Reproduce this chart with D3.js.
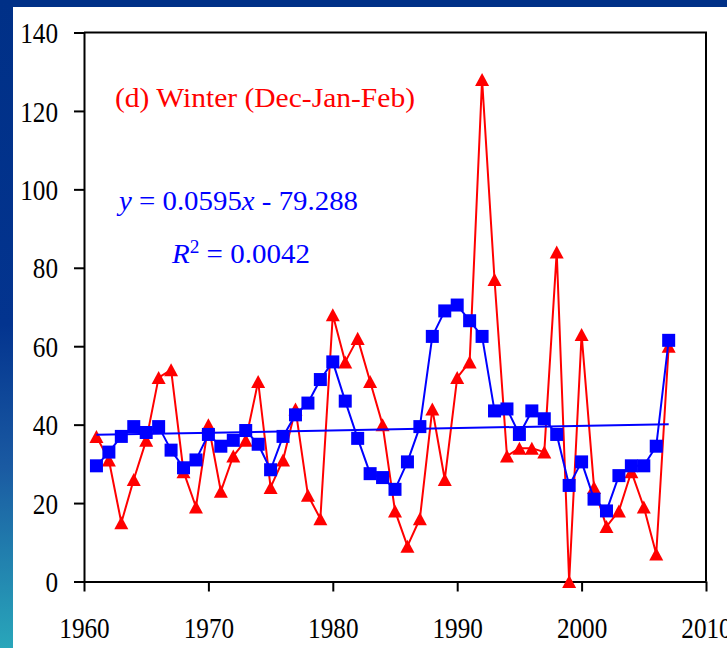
<!DOCTYPE html>
<html>
<head>
<meta charset="utf-8">
<script src="https://cdn.jsdelivr.net/npm/d3@7"></script>
<style>
  html, body { margin: 0; padding: 0; background: #fff; }
  svg { display: block; }
</style>
</head>
<body>
<svg id="chart" width="727" height="648"></svg>
<script>
// Winter (Dec-Jan-Feb) series, 1961-2007
const years = [1961,1962,1963,1964,1965,1966,1967,1968,1969,1970,
               1971,1972,1973,1974,1975,1976,1977,1978,1979,1980,
               1981,1982,1983,1984,1985,1986,1987,1988,1989,1990,
               1991,1992,1993,1994,1995,1996,1997,1998,1999,2000,
               2001,2002,2003,2004,2005,2006,2007];

// red triangles
const winterValues = [37,31,15,26,36,52,54,28,19,40,
                      23,32,36,51,24,31,44,22,16,68,
                      56,62,51,40,18,9,16,44,26,52,
                      56,128,77,32,34,34,33,84,0,63,
                      24,14,18,28,19,7,60];

// blue squares
const blueValues = [29.5,33,37,39.5,38,39.5,33.5,29,31,37.5,
                    34.5,36,38.5,35,28.5,37,42.5,45.5,51.5,56,
                    46,36.5,27.5,26.5,23.5,30.5,39.5,62.5,69,70.5,
                    66.5,62.5,43.5,44,37.5,43.5,41.5,37.5,24.5,30.5,
                    21,18,27,29.5,29.5,34.5,61.5];

// linear trend y = 0.0595x - 79.288
const trendSlope = 0.0595;
const trendIntercept = -79.288;
const trendYears = [1961, 2007];

const xTicks = [1960, 1970, 1980, 1990, 2000, 2010];
const yTicks = [0, 20, 40, 60, 80, 100, 120, 140];
const titleText = "(d) Winter (Dec-Jan-Feb)";

const RED = "#ff0000";
const BLUE = "#0000ff";
const FONT = "'Liberation Serif', 'Times New Roman', serif";

const svg = d3.select("#chart");

// slide frame: dark band on top, gradient strip on the left
const defs = svg.append("defs");
const grad = defs.append("linearGradient")
  .attr("id", "sideGrad").attr("x1", 0).attr("y1", 0).attr("x2", 0).attr("y2", 1);
grad.append("stop").attr("offset", "0%").attr("stop-color", "#003087");
grad.append("stop").attr("offset", "50%").attr("stop-color", "#03348f");
grad.append("stop").attr("offset", "72%").attr("stop-color", "#1a5aa2");
grad.append("stop").attr("offset", "100%").attr("stop-color", "#29a6ba");

svg.append("rect").attr("x", 0).attr("y", 0).attr("width", 727).attr("height", 7).attr("fill", "#003087");
svg.append("rect").attr("x", 0).attr("y", 0).attr("width", 13).attr("height", 648).attr("fill", "url(#sideGrad)");

// plot box
const plotLeft = 84, plotRight = 706, plotTop = 32.5, plotBottom = 581.5;

const x = d3.scaleLinear().domain([1960, 2010]).range([plotLeft, plotRight]);
const y = d3.scaleLinear().domain([0, 140]).range([plotBottom, plotTop]);

const digitW = 12.6;

// y axis
const yAxis = svg.append("g")
  .attr("transform", `translate(${plotLeft},0)`)
  .call(d3.axisLeft(y).tickValues(yTicks).tickSize(10).tickSizeOuter(0).tickPadding(16));
yAxis.selectAll("text")
  .attr("font-family", FONT).attr("font-size", 29).attr("fill", "#000")
  .attr("dy", "0.35em")
  .attr("textLength", d => String(d).length * digitW)
  .attr("lengthAdjust", "spacingAndGlyphs");

// x axis
const xAxis = svg.append("g")
  .attr("transform", `translate(0,${plotBottom})`)
  .call(d3.axisBottom(x).tickValues(xTicks).tickFormat(d3.format("d")).tickSize(10).tickSizeOuter(0));
xAxis.selectAll("text")
  .attr("font-family", FONT).attr("font-size", 29).attr("fill", "#000")
  .attr("y", 46).attr("dy", "0.35em")
  .attr("textLength", d => String(d).length * digitW)
  .attr("lengthAdjust", "spacingAndGlyphs");

svg.selectAll(".domain, .tick line").attr("stroke", "#000").attr("stroke-width", 2);

// top and right edges of the plot box
svg.append("path")
  .attr("d", `M${plotLeft},${plotTop}H${plotRight}V${plotBottom}`)
  .attr("fill", "none").attr("stroke", "#000").attr("stroke-width", 2);

const red = years.map((yr, i) => ({ yr, v: winterValues[i] }));
const blue = years.map((yr, i) => ({ yr, v: blueValues[i] }));

const line = d3.line().x(d => x(d.yr)).y(d => y(d.v));

// triangle marker centred on its bounding box
const boxTriangle = {
  draw(ctx, size) {
    const w = Math.sqrt(size), h = w * 0.93;
    ctx.moveTo(0, -h / 2);
    ctx.lineTo(w / 2, h / 2);
    ctx.lineTo(-w / 2, h / 2);
    ctx.closePath();
  }
};

// red series
svg.append("path").datum(red)
  .attr("d", line).attr("fill", "none").attr("stroke", RED).attr("stroke-width", 2)
  .attr("stroke-linejoin", "round");
svg.append("g").selectAll("path").data(red).join("path")
  .attr("transform", d => `translate(${x(d.yr)},${y(d.v)})`)
  .attr("d", d3.symbol(boxTriangle, 14 * 14))
  .attr("fill", RED);

// blue series
svg.append("path").datum(blue)
  .attr("d", line).attr("fill", "none").attr("stroke", BLUE).attr("stroke-width", 2)
  .attr("stroke-linejoin", "round");
svg.append("g").selectAll("rect").data(blue).join("rect")
  .attr("x", d => x(d.yr) - 6.5).attr("y", d => y(d.v) - 6.5)
  .attr("width", 13).attr("height", 13)
  .attr("fill", BLUE);

// trend line
svg.append("path")
  .datum(trendYears.map(yr => ({ yr, v: trendSlope * yr + trendIntercept })))
  .attr("d", line).attr("fill", "none").attr("stroke", BLUE).attr("stroke-width", 2);

// panel title
svg.append("text")
  .attr("x", 115).attr("y", 107)
  .attr("font-family", FONT).attr("font-size", 28).attr("fill", RED)
  .attr("textLength", 300).attr("lengthAdjust", "spacingAndGlyphs")
  .text(titleText);

// regression equation
const eq = svg.append("text")
  .attr("x", 119).attr("y", 210)
  .attr("font-family", FONT).attr("font-size", 27).attr("fill", BLUE)
  .attr("textLength", 239).attr("lengthAdjust", "spacingAndGlyphs");
eq.append("tspan").attr("font-style", "italic").text("y");
eq.append("tspan").text(` = ${trendSlope}`);
eq.append("tspan").attr("font-style", "italic").text("x");
eq.append("tspan").text(` - ${Math.abs(trendIntercept)}`);

const r2 = svg.append("text")
  .attr("x", 172).attr("y", 263)
  .attr("font-family", FONT).attr("font-size", 27).attr("fill", BLUE)
  .attr("textLength", 138).attr("lengthAdjust", "spacingAndGlyphs");
r2.append("tspan").attr("font-style", "italic").text("R");
r2.append("tspan").attr("font-size", 18).attr("dy", -10).text("2");
r2.append("tspan").attr("dy", 10).text(" = 0.0042");
</script>
</body>
</html>
